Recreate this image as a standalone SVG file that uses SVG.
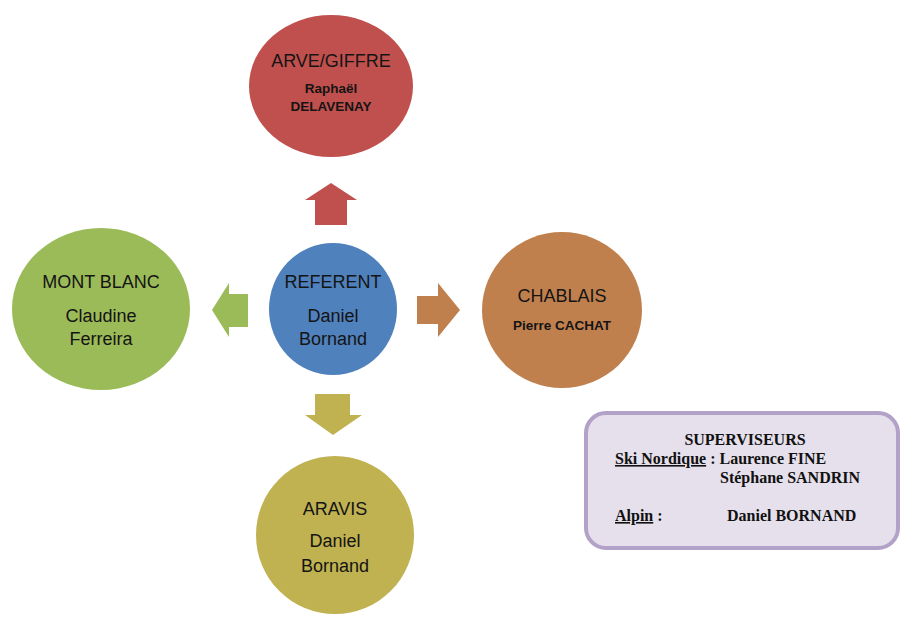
<svg xmlns="http://www.w3.org/2000/svg" width="901" height="617" viewBox="0 0 901 617">
<style>
.t{font-family:"Liberation Sans",Arial,sans-serif;fill:#141414;text-anchor:middle}
.big{font-size:18px}
.sm{font-size:13.5px;font-weight:bold}
.s{font-family:"Liberation Serif","Times New Roman",serif;font-size:16px;font-weight:bold;fill:#111}
</style>
<rect width="901" height="617" fill="#ffffff"/>
<g id="connectors">
<polygon points="331,183 357,200 347,200 347,225 315,225 315,200 305,200" fill="#c0504d"/>
<polygon points="417,296 438,296 438,283 460,310 438,337 438,324 417,324" fill="#c0804e"/>
<polygon points="212,310 229,283 229,294 248,294 248,327 229,327 229,337" fill="#9bbb59"/>
<polygon points="315,394 350,394 350,415 362,415 333,435 305,415 315,415" fill="#c0b151"/>
</g>
<g id="arve">
<ellipse cx="331" cy="86" rx="82" ry="71" fill="#c0504d"/>
<text class="t big" x="331" y="67">ARVE/GIFFRE</text>
<text class="t sm" x="331" y="93">Raphaël</text>
<text class="t sm" x="331" y="111">DELAVENAY</text>
</g>
<g id="referent">
<ellipse cx="333" cy="309" rx="64" ry="66" fill="#4f81bd"/>
<text class="t big" x="333" y="288">REFERENT</text>
<text class="t big" x="333" y="322">Daniel</text>
<text class="t big" x="333" y="345">Bornand</text>
</g>
<g id="montblanc">
<ellipse cx="101" cy="309" rx="89" ry="81" fill="#9bbb59"/>
<text class="t big" x="101" y="288">MONT BLANC</text>
<text class="t big" x="101" y="322">Claudine</text>
<text class="t big" x="101" y="345">Ferreira</text>
</g>
<g id="chablais">
<ellipse cx="562" cy="310" rx="80" ry="78" fill="#c0804e"/>
<text class="t big" x="562" y="302">CHABLAIS</text>
<text class="t sm" x="562" y="330">Pierre CACHAT</text>
</g>
<g id="aravis">
<ellipse cx="335" cy="535" rx="79" ry="79" fill="#c0b151"/>
<text class="t big" x="335" y="515">ARAVIS</text>
<text class="t big" x="335" y="547">Daniel</text>
<text class="t big" x="335" y="572">Bornand</text>
</g>
<g id="superviseurs">
<rect x="586" y="413" width="312" height="135" rx="20" ry="20" fill="#e6e0ec" stroke="#b3a2c7" stroke-width="4"/>
<text class="s" x="745" y="445" text-anchor="middle">SUPERVISEURS</text>
<text class="s" x="615" y="464"><tspan text-decoration="underline">Ski Nordique</tspan> : Laurence FINE</text>
<text class="s" x="720" y="483">Stéphane SANDRIN</text>
<text class="s" x="615" y="521"><tspan text-decoration="underline">Alpin</tspan> :</text>
<text class="s" x="727" y="521">Daniel BORNAND</text>
</g>
</svg>
